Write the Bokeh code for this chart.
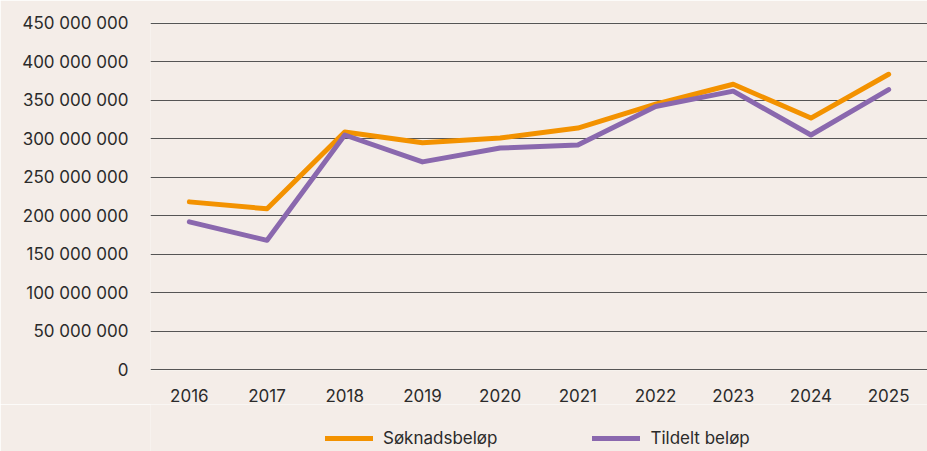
from bokeh.plotting import figure
from bokeh.layouts import column
from bokeh.models import FixedTicker, Legend, LegendItem, ColumnDataSource, Range1d
from bokeh.embed import file_html
from bokeh.resources import INLINE

years = ["2016", "2017", "2018", "2019", "2020", "2021", "2022", "2023", "2024", "2025"]
soknad = [218e6, 209e6, 309e6, 295e6, 301e6, 314e6, 345e6, 371e6, 327e6, 384e6]
tildelt = [192e6, 168e6, 305e6, 270e6, 288e6, 292e6, 342e6, 362e6, 305e6, 364e6]
y_ticks = [0, 50000000, 100000000, 150000000, 200000000,
           250000000, 300000000, 350000000, 400000000, 450000000]
y_labels = ["0", "50 000 000", "100 000 000", "150 000 000", "200 000 000",
            "250 000 000", "300 000 000", "350 000 000", "400 000 000", "450 000 000"]
series_names = ["Søknadsbeløp", "Tildelt beløp"]
colors = ["#f39200", "#8a68ae"]

BG = "#f4ede8"
FONT = "Inter"
TXT = "#2b2b2b"

p = figure(x_range=years, y_range=Range1d(-1.3e6, 451.3e6), width=927, height=404,
           output_backend="svg", toolbar_location=None,
           background_fill_color=BG, border_fill_color=BG,
           min_border_left=150, min_border_right=0, min_border_top=22, min_border_bottom=32)
p.outline_line_color = None

src = ColumnDataSource(dict(year=years, soknad=soknad, tildelt=tildelt))
p.line("year", "soknad", source=src, line_color=colors[0], line_width=5, line_cap="round", line_join="round")
p.line("year", "tildelt", source=src, line_color=colors[1], line_width=5, line_cap="round", line_join="round")

p.xgrid.grid_line_color = None
p.ygrid.grid_line_color = "#555555"
p.ygrid.grid_line_width = 1.2

p.yaxis.ticker = FixedTicker(ticks=y_ticks)
p.yaxis.major_label_overrides = {t: l for t, l in zip(y_ticks, y_labels)}
for ax in (p.xaxis[0], p.yaxis[0]):
    ax.axis_line_color = None
    ax.major_tick_line_color = None
    ax.minor_tick_line_color = None
    ax.major_label_text_font = FONT
    ax.major_label_text_font_size = "17px"
    ax.major_label_text_color = TXT
p.yaxis.major_label_standoff = 16
p.xaxis.major_label_standoff = 12

# legend strip below the chart (series lines lie outside its visible range)
lg = figure(width=927, height=47, x_range=years, y_range=Range1d(0, 1),
            output_backend="svg", toolbar_location=None,
            x_axis_type=None, y_axis_type=None,
            background_fill_color=BG, border_fill_color=BG,
            min_border_left=150, min_border_right=0, min_border_top=0, min_border_bottom=0)
lg.outline_line_color = None
lg.xgrid.grid_line_color = None
lg.ygrid.grid_line_color = None
l1 = lg.line("year", "soknad", source=src, line_color=colors[0], line_width=5, line_cap="round")
l2 = lg.line("year", "tildelt", source=src, line_color=colors[1], line_width=5, line_cap="round")
legend = Legend(items=[LegendItem(label=series_names[0], renderers=[l1]),
                       LegendItem(label=series_names[1], renderers=[l2])],
                orientation="horizontal", location=(175, 3),
                background_fill_alpha=0, border_line_color=None,
                label_text_font=FONT, label_text_font_size="17px", label_text_color=TXT,
                glyph_width=48, spacing=95, label_standoff=10, padding=0, margin=0)
lg.add_layout(legend, "center")

layout = column(p, lg, spacing=0)
html = file_html(layout, INLINE)
open("out.html", "w").write(html)
